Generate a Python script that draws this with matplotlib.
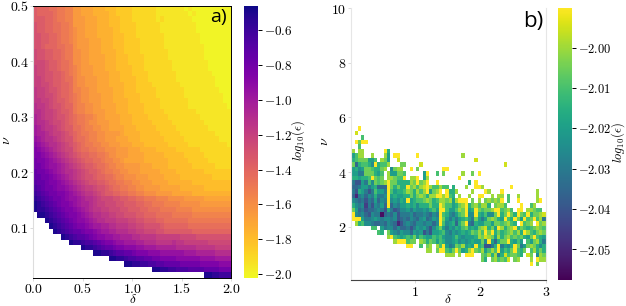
import numpy as np
import matplotlib
matplotlib.use('Agg')
import matplotlib.pyplot as plt

plt.rcParams['mathtext.fontset'] = 'cm'
plt.rcParams['font.family'] = 'DejaVu Serif'

W, H = 626, 306

# panel a: one string per nu row from 0.50 down to 0.01, one char per delta column
# char = base 32 level in 0.05 steps above -2.0, '.' = no value
a_rows = """
dcccb baa99 77666 55544 43333 22222 21111 11101 00000 00000
dcccc baa99 77666 55554 43333 22222 21111 11110 10000 00000
dddcc baa99 77766 65554 44333 22222 21211 11111 00000 00000
eddcc bbaa9 77766 65554 44333 32222 22111 11111 10000 00000
eddcc bbaa9 87766 65555 44333 32222 22111 11111 10000 00000
eeddc cbaa9 87766 65555 44433 32222 22211 11111 11000 00000
eeddc cbaa9 87776 66555 44433 33222 22211 11111 11000 00000
eedcc cbbaa 87776 66555 44433 33222 22211 11111 11100 00000
feedd ccbaa 88776 66555 54433 33222 22221 11111 11100 00000
feedd ccbaa 88776 66655 54443 33322 22221 11111 11100 00000
fffed dcbba 88776 66655 54443 33322 22222 11111 11110 00000
gffed dcbba 98777 66655 54444 33322 22222 11111 11110 00000
gffee ddcba 98777 66665 55444 33332 22222 21111 11111 00000
ggfee ddcbb 98877 76665 55444 43332 22222 21111 11111 10000
ggffe ddccb 98877 76665 55544 43333 22222 22111 11111 10000
hggfe edccb 99887 76666 55544 43333 32222 22211 11111 11000
hggff edccb a9887 77666 55544 44333 32222 22211 11111 11100
hhggf eddcb a9887 77666 55554 44333 33222 22221 11111 11100
ihhgf eedcc a9988 77666 65554 44433 33222 22221 11111 11110
iihgg feddc a9988 77766 65554 44433 33322 22222 21111 11111
jihgg feedc baa99 87766 66555 44443 33332 22222 22111 11111
jiihg ffedc baa98 87776 66555 44444 33333 22222 22211 11111
kjihh gfedd bba99 88776 66655 54444 43333 32222 22221 11111
kjjih ggfed cbaa9 98877 77655 55444 44333 33222 22222 21111
lkjii hgfee cbba9 98877 76665 55444 44433 33322 22222 22111
mlkji ihgfe dcbaa 99887 77666 55544 44443 33332 22222 22221
nmlkj ihgff dcbba a9988 87776 66555 54444 43333 33222 22222
nnmlk jihgf edccb baa98 87776 66655 55544 44433 33322 22222
onnml kjihg fedcc bba99 88766 66655 55554 44443 33332 22222
oonml lkjih gfedd cbba9 98877 77666 55554 44444 33333 32222
poonm lkjii hgfed dcbaa 99887 77666 66555 54444 44433 33333
ppoon mlkji hgfee dccbb a9988 87776 66655 55444 44444 33333
qppon nmlkj ihgfe eddcb baa99 88777 66665 55555 44444 44444
rqpoo nmmlk jihgg feedc bbaa9 98877 77666 66555 55544 44444
srqpo onnml kjihh gfedd ccbba a9988 87777 66666 55555 55555
tsrqp oonml lkjii hgfff eeddc cbbaa a9998 88877 77766 66666
utsrq ponnm lkjji hggff feedd dccbb aaa99 99888 88777 77777
uttsr qponn mlkji hhggf ffeed ddccb bbaaa a9999 88888 88888
.uuts rqpon nmlkj iihhg gffee eddcc cbbbb aaaaa 99999 99999
...ut srqpo nmmlk jiihh hgggf feedd dccbb bbbba aaaaa aaaaa
....u tsrqp onnml kkjji ihhhg gffee eedcc ccccb bbbbb bbbbb
..... utsrq pponn mlkkj jiiih hggff feedd ddddd ccccc ccccc
..... ..uts rqqpo nmmll kkjjj iihhh hgggg ggfff feeee eeeee
..... ....u ttsrr qponn mllkk kjjii ihhhh ihhgg ggggf fffff
..... ..... ..utt srqpp onnmm mllkk kjjjj jiiii ihhhh hgggg
..... ..... ..... uutts rqqpp onnnm mmlll lllkk kjjjj jiiii
..... ..... ..... ....u uttsr rqqpp oonnn nmmmm mmlll lkkkk
..... ..... ..... ..... ...uu ttssr rqqpp ppooo oonnn nnmmm
..... ..... ..... ..... ..... ..... uutts srrrq qqqpp ppooo
..... ..... ..... ..... ..... ..... ..... ..... ...uu ttsss
"""

# panel b: rows from the 27th down from nu=10, 60 delta columns
# char = level in 0.005 steps above -2.055, '.' = no value
b_first_row = 26
b_rows = """
..d....... .......... .......... .......... .......... ..........
.c........ .......... .......... .......... .......... ..........
...9...... .......... .......... .......... .......... ..........
.dadd..... .......... .......... .......... .......... ..........
..9....... .......... .......... .......... .......... ..........
b.bb...... d8........ .......... .......... .......... ..........
79bb..b... b7.dd..... d......... ....b..... .......... ..........
89aaa779.b a7..c..... .......... ........c. .......... ..........
a489986d89 9b...aa... .c........ .......... .......c.. ..........
7867aa988a b.6abb..d. a.......dd .......... .......... ..........
7755aaa879 .b77aa9... ..7d..9.a. ....b..a.d .......... ..........
887889da9a .bba99d.bb d.7b...... ...d...... .......... ..........
5337596a9a bdaa8888ba dabd..d... ......8.d. .......... ..........
4457757844 4da8a88dab 9bcdb99b99 .8...b..dd b........d ..........
5387535977 5d97889ba8 b9bd7abd.d 88b....b.. .db...d... .......b..
4156465855 6d787788a8 aba8bbddbd 98.b..b..d d..b.bb.9. .b.....b..
6545354746 5d67687d78 99aba89bba b7bddd.a.b .ababad.9. .d.....bd.
8656253657 4d46577878 6888a88db9 978abd8ab9 bb8.abb9.. ..d..9b...
a745344565 3853466757 6676897dd9 779bad78da 9aabdd9ab9 .dd.bba99.
d656436550 4546355564 5565465d98 6579ad66d8 7966ad8ada 8da9d8aabc
ddd7556765 6656345465 4674576da7 57578975a7 57aba87d98 da7d9ad9b5
.b89665445 4654135654 6656646d96 7848ad5487 7997aa9ab9 8.d9ab.dab
......99.7 5664644535 7675368a75 76879a787a bc8a7db8ab d8a989aba9
........98 .a76576647 6735377896 5767878a9b 9dad8a89ab 9b8db98aba
.......... .bd987898a 7987798976 679767778b acba7b8ab9 a9a87ad987
.......... ...bddd9aa .ba8a97986 6786767877 a6d748aad8 797.97ab85
.......... .......dd. .9.ab.b9d7 56a9b787d8 93358d5768 da57aba868
.......... .......... ...bb.add9 8ada78bda9 b79b9d798a d98a.9b8a8
.......... .......... .........b bb.b.ddd.. a9b8b58c9a a98.ca.6ba
.......... .......... .......... .......... a8.ab9a9c. ab...b.dbb
.......... .......... .......... .......... .......... .....d.a..
"""

a_xticks = [0.0, 0.5, 1.0, 1.5, 2.0]
a_yticks = [0.1, 0.2, 0.3, 0.4, 0.5]
a_cticks = [-0.6, -0.8, -1.0, -1.2, -1.4, -1.6, -1.8, -2.0]
b_xticks = [1, 2, 3]
b_yticks = [2, 4, 6, 8, 10]
b_cticks = [-2.00, -2.01, -2.02, -2.03, -2.04, -2.05]


def parse(text, base, step, radix):
    out = []
    for line in text.strip().splitlines():
        s = line.replace(' ', '')
        out.append([np.nan if c == '.' else base + int(c, radix) * step for c in s])
    return np.array(out, dtype=float)


def box(x0, y0, x1, y1):
    # pixel box (y from the top) to figure fractions
    return [x0 / W, 1 - y1 / H, (x1 - x0) / W, (y1 - y0) / H]


def math_labels(vals, fmt):
    return ['$' + fmt.format(v) + '$' for v in vals]


fig = plt.figure(figsize=(W / 100, H / 100), dpi=100)

# a)
ax1 = fig.add_axes(box(33.3, 5.5, 231.3, 277.7))
z1 = parse(a_rows, -2.0, 0.05, 32)[::-1]
m1 = ax1.pcolormesh(np.linspace(0, 2, z1.shape[1] + 1), np.linspace(0.01, 0.5, z1.shape[0] + 1), z1,
                    cmap='plasma_r', vmin=-2.021, vmax=-0.458)
ax1.set_xlim(0, 2)
ax1.set_ylim(0.01, 0.5)
ax1.set_xticks(a_xticks)
ax1.set_xticklabels(math_labels(a_xticks, '{:.1f}'))
ax1.set_yticks(a_yticks)
ax1.set_yticklabels(math_labels(a_yticks, '{:.1f}'))
ax1.spines['left'].set_color('#dddddd')
for s in ['top', 'right', 'bottom']:
    ax1.spines[s].set_linewidth(0.7)
ax1.tick_params(length=2, width=0.5, color='#cccccc', labelsize=10, pad=1)
fig.text(218 / W, 1 - 17 / H, 'a)', fontsize=14, family='Open Sans', ha='center', va='center')
fig.text(132.5 / W, 1 - 299.5 / H, r'$\delta$', fontsize=9.5, ha='center', va='center')
fig.text(5.5 / W, 1 - 140 / H, r'$\nu$', fontsize=10, rotation=90, ha='center', va='center')

cax1 = fig.add_axes(box(244, 5.5, 257.7, 277.7))
cb1 = fig.colorbar(m1, cax=cax1)
cb1.set_ticks(a_cticks)
cb1.set_ticklabels(math_labels(a_cticks, '{:.1f}'))
cb1.outline.set_visible(False)
cax1.tick_params(length=3, width=0.7, labelsize=9.5, pad=1.5)
fig.text(298 / W, 1 - 141 / H, r'$log_{10}(\epsilon)$', fontsize=9, rotation=90, ha='center', va='center')

# b)
ax2 = fig.add_axes(box(351.3, 8.3, 545.7, 280))
z2 = np.full((60, 60), np.nan)
vals2 = parse(b_rows, -2.055, 0.005, 16)
z2[b_first_row:b_first_row + vals2.shape[0]] = vals2
z2 = z2[::-1]
m2 = ax2.pcolormesh(np.linspace(0.033, 3, 61), np.linspace(0.046, 10, 61), z2,
                    cmap='viridis', vmin=-2.0576, vmax=-1.9902)
ax2.set_xlim(0.033, 3)
ax2.set_ylim(0.046, 10)
ax2.set_xticks(b_xticks)
ax2.set_xticklabels(math_labels(b_xticks, '{}'))
ax2.set_yticks(b_yticks)
ax2.set_yticklabels(math_labels(b_yticks, '{}'))
ax2.spines['top'].set_visible(False)
ax2.spines['left'].set_color('#e6e6e6')
ax2.spines['right'].set_color('#e6e6e6')
ax2.spines['bottom'].set_color('#444444')
ax2.tick_params(length=2, width=0.5, color='#cccccc', labelsize=10, pad=1.5)
fig.text(533 / W, 1 - 21 / H, 'b)', fontsize=16, family='Open Sans', ha='center', va='center')
fig.text(448 / W, 1 - 299.5 / H, r'$\delta$', fontsize=9.5, ha='center', va='center')
fig.text(323.5 / W, 1 - 141 / H, r'$\nu$', fontsize=10, rotation=90, ha='center', va='center')

cax2 = fig.add_axes(box(558, 8.3, 571.7, 280))
cb2 = fig.colorbar(m2, cax=cax2)
cb2.set_ticks(b_cticks)
cb2.set_ticklabels(math_labels(b_cticks, '{:.2f}'))
cb2.outline.set_visible(False)
cax2.tick_params(length=3, width=0.7, labelsize=9, pad=1.5)
fig.text(618.5 / W, 1 - 143 / H, r'$log_{10}(\epsilon)$', fontsize=9, rotation=90, ha='center', va='center')

fig.savefig('out.png', dpi=100)
